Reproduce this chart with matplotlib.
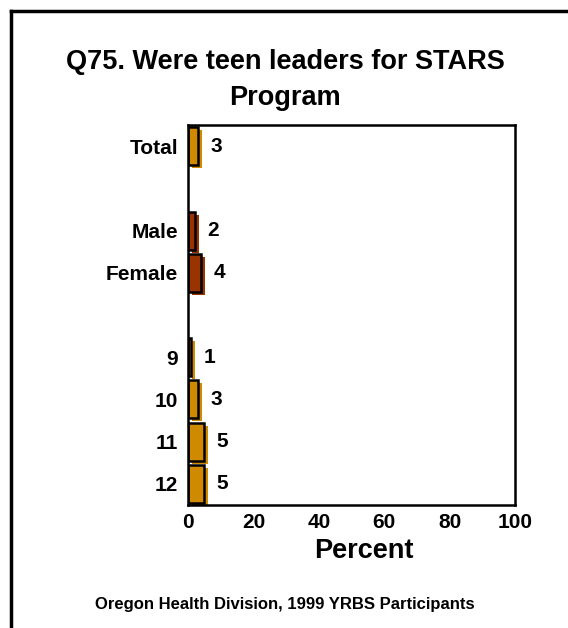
import matplotlib
matplotlib.use("Agg")
import matplotlib.pyplot as plt
import matplotlib.transforms as mtransforms
from matplotlib.lines import Line2D

plt.rcParams['font.family'] = ['Liberation Sans', 'DejaVu Sans']
plt.rcParams['font.weight'] = 'bold'

categories = ["Total", "", "Male", "Female", "", "9", "10", "11", "12"]
values = [3, None, 2, 4, None, 1, 3, 5, 5]
colors = ["#D08A00", None, "#993300", "#993300", None, "#D08A00", "#D08A00", "#D08A00", "#D08A00"]
xticks = [0, 20, 40, 60, 80, 100]
title = "Q75. Were teen leaders for STARS\nProgram"
xlabel = "Percent"
footer = "Oregon Health Division, 1999 YRBS Participants"

W, H = 568, 628
fig = plt.figure(figsize=(W / 100, H / 100), dpi=100)
ax = fig.add_axes([188 / W, 1 - 505 / H, (515 - 188) / W, (505 - 125) / H])

# frame border of the slide
fig.add_artist(Line2D([11 / W, 11 / W], [0, 1 - 11 / H], transform=fig.transFigure, color="black", lw=2.5))
fig.add_artist(Line2D([11 / W, 1], [1 - 11 / H, 1 - 11 / H], transform=fig.transFigure, color="black", lw=2.5))

shadow = mtransforms.offset_copy(ax.transData, fig=fig, x=4, y=-3, units='dots')
for i, (v, c) in enumerate(zip(values, colors)):
    if v is None:
        continue
    ax.barh(i, v, height=0.9, color=c, edgecolor=c, lw=0, zorder=2)
    b = ax.barh(i, v, height=0.9, color=c, edgecolor=c, lw=0, zorder=2)
    for p in b:
        p.set_transform(shadow)
    ax.barh(i, v, height=0.9, facecolor="none", edgecolor="black", lw=1.8, zorder=3)
    ax.annotate(str(v), (v, i), xytext=(9, 0), textcoords="offset points",
                va="center", ha="left", fontsize=15, fontweight="bold")

ax.set_xlim(0, 100)
ax.set_ylim(len(categories) - 0.5, -0.5)
ax.set_xticks(xticks)
ax.set_xticklabels([str(t) for t in xticks], fontsize=15, fontweight="bold")
ax.set_yticks(range(len(categories)))
ax.set_yticklabels(categories, fontsize=15, fontweight="bold")
ax.tick_params(axis="both", length=0)
ax.tick_params(axis="y", pad=7)
ax.tick_params(axis="x", pad=6)
for s in ax.spines.values():
    s.set_linewidth(1.8)
    s.set_zorder(4)
ax.set_xlabel(xlabel, fontsize=19.5, fontweight="bold", va="center")
ax.xaxis.set_label_coords((364 - 188) / 327, -(551 - 505) / 380)

fig.text(285 / W, 1 - 80 / H, title, ha="center", va="center", fontsize=19.5, fontweight="bold", linespacing=1.5)
fig.text(285 / W, 1 - 605 / H, footer, ha="center", va="center", fontsize=12, fontweight="bold")

fig.savefig("out.png", dpi=100)
